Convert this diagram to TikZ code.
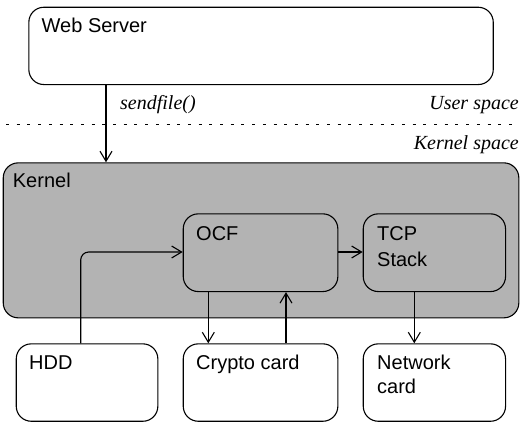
\documentclass[tikz,border=0pt]{standalone}
\usepackage{fontspec}
\setmainfont{Liberation Sans}
\newfontfamily\serifit{Liberation Serif}
\usetikzlibrary{arrows.meta}

\begin{document}
\begin{tikzpicture}[x=1pt,y=-1pt,
  box/.style={draw=black, line width=1.1pt, rounded corners=15pt, fill=white,
    anchor=north west, inner sep=0pt},
  lbl/.style={anchor=base west, inner sep=0pt, font=\fontsize{20}{24}\selectfont},
  note/.style={inner sep=0pt, font=\fontsize{20}{24}\selectfont\serifit\itshape},
  arr/.style={draw=black, line width=1.1pt, -{Straight Barb[length=10pt,width=12pt,line width=1.1pt]}},
  sep/.style={draw=black, line width=0.9pt, dash pattern=on 3pt off 7.7pt}]

\useasboundingbox (0,0) rectangle (525,423);

% user-space process
\node[box, minimum width=464.4pt, minimum height=77.3pt] (ws) at (28.3,6.7) {};
\node[lbl] at (41.5,32.3) {Web Server};

% boundary between user and kernel space
\coordinate (sepL) at (6,124);
\coordinate (sepR) at (512,124);
\draw[sep] (sepL) -- (sepR);
\node[note, anchor=base east] at (519,109) {User space};
\node[note, anchor=base east] at (519,149) {Kernel space};

% kernel and its subsystems
\node[box, fill={rgb,255:red,179;green,179;blue,179}, minimum width=515.6pt, minimum height=155pt] (kernel) at (2.7,162.3) {};
\node[lbl] at (12.7,187.3) {Kernel};

\node[box, fill={rgb,255:red,179;green,179;blue,179}, minimum width=154.6pt, minimum height=77.7pt] (ocf) at (182.7,213.3) {};
\node[lbl] at (196,240) {OCF};

\node[box, fill={rgb,255:red,179;green,179;blue,179}, minimum width=142.3pt, minimum height=77.7pt] (tcp) at (362.7,213.3) {};
\node[lbl, align=left] at (377,240) {TCP};
\node[lbl] at (377,266.5) {Stack};

% hardware
\node[box, minimum width=141.6pt, minimum height=77.4pt] (hdd) at (15.7,343.3) {};
\node[lbl] at (29,369) {HDD};

\node[box, minimum width=154.6pt, minimum height=77.4pt] (crypto) at (182.7,343.3) {};
\node[lbl] at (196,369) {Crypto card};

\node[box, minimum width=142.3pt, minimum height=77.4pt] (nic) at (362.7,343.3) {};
\node[lbl] at (377,369) {Network};
\node[lbl] at (377,393) {card};

% system call
\path ([xshift=77.7pt]ws.south west) coordinate (sf);
\draw[arr] (sf) -- (sf |- kernel.north);
\node[note, anchor=base west] at (120,109) {sendfile()};

% data path
\path ([xshift=65pt]hdd.north west) coordinate (hddout);
\path ([yshift=-38.7pt]ocf.north west) coordinate (ocfin);
\draw[arr, rounded corners=8pt] (hddout) |- (ocfin);

\path ([xshift=25.6pt]ocf.south west) coordinate (toc);
\draw[arr] (toc) -- (toc |- crypto.north);

\path ([xshift=103.3pt]crypto.north west) coordinate (fromc);
\draw[arr] (fromc) -- (fromc |- ocf.south);

\path ([yshift=-38.7pt]ocf.north east) coordinate (ocfout);
\draw[arr] (ocfout) -- (ocfout -| tcp.west);

\path ([xshift=51.6pt]tcp.south west) coordinate (tonic);
\draw[arr] (tonic) -- (tonic |- nic.north);

\end{tikzpicture}
\end{document}
